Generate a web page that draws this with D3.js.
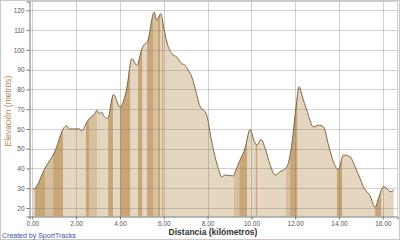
<!DOCTYPE html>
<html>
<head>
<meta charset="utf-8">
<script src="https://cdn.jsdelivr.net/npm/d3@7"></script>
<style>
  body { margin: 0; background: #fff; }
  svg { display: block; font-family: "Liberation Sans", Arial, sans-serif; }
</style>
</head>
<body>
<svg id="chart" width="400" height="240"></svg>
<script>
  // elevation profile
  const distKm = [0.03, 0.12, 0.57, 1.02, 1.45, 1.55, 1.71, 2.16, 2.24, 2.54, 2.85, 2.95,
    3.05, 3.17, 3.24, 3.44, 3.70, 4.00, 4.31, 4.54, 4.77, 5.00, 5.15, 5.25, 5.56, 5.68,
    5.86, 5.98, 6.14, 6.37, 6.59, 6.82, 6.97, 7.12, 7.28, 7.50, 7.62, 7.96, 8.19, 8.49,
    8.65, 8.80, 9.18, 9.26, 9.48, 9.71, 9.94, 10.14, 10.25, 10.44, 10.63, 10.85, 11.08,
    11.31, 11.62, 11.84, 12.03, 12.18, 12.33, 12.53, 12.83, 13.06, 13.29, 13.52, 13.74,
    13.97, 14.20, 14.51, 14.73, 14.96, 15.11, 15.42, 15.65, 15.80, 16.03, 16.18, 16.33, 16.50];
  const elevM = [29.5, 30, 40, 48.4, 60.8, 61.6, 60, 60, 59, 64.4, 67.8, 69.5,
    67.8, 68.6, 67, 65.3, 77.4, 71.2, 80.5, 95.6, 92.2, 100.5, 103.2, 104, 119.1, 115,
    118.3, 112.4, 104, 98.1, 96.4, 93.1, 92.2, 89.7, 86.3, 77.5, 72.5, 67, 53.5, 40,
    35.8, 36.7, 36.2, 38.3, 44.2, 50.2, 59.7, 53.5, 51.8, 54.7, 50.2, 42, 36.7,
    38.3, 40.9, 51.8, 70.4, 81.3, 76.2, 69.5, 61.1, 61.9, 61.1, 51.8, 43.5,
    39.5, 46.8, 45.9, 40.9, 35, 30.8, 26.1, 20.4, 24.9, 30.8, 30, 28.2, 29.1];

  // shaded segments (level 1 = medium, 2 = dark)
  const bandStart = [0.12, 0.58, 0.95, 2.45, 2.59, 3.46, 4.00, 4.83, 5.24, 5.51, 5.73, 5.92,
    9.21, 9.45, 10.20, 11.58, 11.77, 13.91, 15.65];
  const bandEnd = [0.58, 0.95, 1.40, 2.59, 2.95, 3.68, 4.46, 5.01, 5.51, 5.72, 5.83, 5.97,
    9.45, 9.80, 10.26, 11.77, 12.09, 14.14, 15.92];
  const bandLevel = [2, 1, 2, 2, 1, 2, 2, 2, 2, 1, 2, 2, 1, 2, 2, 1, 2, 2, 2];

  const xTicks = [0, 2, 4, 6, 8, 10, 12, 14, 16];
  const yTicks = [20, 30, 40, 50, 60, 70, 80, 90, 100, 110, 120];

  const width = 400;
  const height = 240;
  const plot = { left: 29.5, right: 397.5, top: 1.5, bottom: 216.5 };
  const shades = { 0: '#e5d6c0', 1: '#d7c09d', 2: '#c8a677' };

  const data = distKm.map((d, i) => ({ d: d, e: elevM[i] }));

  const xScale = d3.scaleLinear().domain([-0.13, 16.67]).range([plot.left, plot.right]);
  const yScale = d3.scaleLinear().domain([15.7, 124.5]).range([plot.bottom, plot.top]);

  const svg = d3.select('#chart');

  // outer frame
  svg.append('rect')
    .attr('x', 0.5).attr('y', 0.5)
    .attr('width', width - 1).attr('height', height - 1)
    .attr('fill', '#fff')
    .attr('stroke', '#c8c8c8');

  const area = d3.area()
    .x(p => xScale(p.d))
    .y0(plot.bottom)
    .y1(p => yScale(p.e))
    .curve(d3.curveMonotoneX);

  const line = d3.line()
    .x(p => xScale(p.d))
    .y(p => yScale(p.e))
    .curve(d3.curveMonotoneX);

  svg.append('clipPath')
    .attr('id', 'profile-clip')
    .append('path')
    .attr('d', area(data));

  svg.append('path')
    .attr('d', area(data))
    .attr('fill', shades[0]);

  svg.append('g')
    .attr('clip-path', 'url(#profile-clip)')
    .selectAll('rect')
    .data(bandStart.map((s, i) => ({ s: s, e: bandEnd[i], lvl: bandLevel[i] })))
    .enter()
    .append('rect')
    .attr('x', b => xScale(b.s))
    .attr('width', b => xScale(b.e) - xScale(b.s))
    .attr('y', plot.top)
    .attr('height', plot.bottom - plot.top)
    .attr('fill', b => shades[b.lvl]);

  // grid on top, faint so the fill shows through
  const grid = svg.append('g').attr('stroke', 'rgba(120,120,120,0.35)').attr('stroke-width', 1);
  grid.selectAll('.hgrid')
    .data(yTicks)
    .enter()
    .append('line')
    .attr('class', 'hgrid')
    .attr('x1', plot.left).attr('x2', plot.right)
    .attr('y1', d => Math.round(yScale(d)) + 0.5)
    .attr('y2', d => Math.round(yScale(d)) + 0.5);
  grid.selectAll('.vgrid')
    .data(xTicks)
    .enter()
    .append('line')
    .attr('class', 'vgrid')
    .attr('y1', plot.top).attr('y2', plot.bottom)
    .attr('x1', d => Math.round(xScale(d)) + 0.5)
    .attr('x2', d => Math.round(xScale(d)) + 0.5);
  grid.append('line')
    .attr('x1', plot.left).attr('x2', plot.right)
    .attr('y1', plot.top).attr('y2', plot.top);
  grid.append('line')
    .attr('x1', plot.right).attr('x2', plot.right)
    .attr('y1', plot.top).attr('y2', plot.bottom);

  svg.append('path')
    .attr('d', line(data))
    .attr('fill', 'none')
    .attr('stroke', '#806547')
    .attr('stroke-width', 1);

  const yAxis = d3.axisLeft(yScale).tickValues(yTicks).tickSize(3).tickPadding(2);
  const xAxis = d3.axisBottom(xScale).tickValues(xTicks).tickSize(3).tickPadding(2)
    .tickFormat(d3.format('.2f'));

  const gy = svg.append('g')
    .attr('transform', `translate(${plot.left}, 0)`)
    .call(yAxis);
  const gx = svg.append('g')
    .attr('transform', `translate(0, ${plot.bottom})`)
    .call(xAxis);

  [gx, gy].forEach(g => {
    g.selectAll('.domain').attr('stroke', '#777');
    g.selectAll('.tick line').attr('stroke', '#777');
    g.selectAll('.tick text')
      .attr('fill', '#555')
      .style('font-family', '"Liberation Sans", Arial, sans-serif')
      .style('font-size', '6.5px');
  });

  svg.append('text')
    .attr('x', 213)
    .attr('y', 235)
    .attr('text-anchor', 'middle')
    .attr('font-size', '8.5px')
    .attr('font-weight', 'bold')
    .attr('fill', '#333')
    .text('Distancia (kilómetros)');

  svg.append('text')
    .attr('transform', 'translate(11, 111) rotate(-90)')
    .attr('text-anchor', 'middle')
    .attr('font-size', '8.5px')
    .attr('fill', '#b08a5c')
    .text('Elevación (metros)');

  svg.append('text')
    .attr('x', 2)
    .attr('y', 238)
    .attr('font-size', '7px')
    .attr('fill', '#3a4fb0')
    .text('Created by SportTracks');
</script>
</body>
</html>
